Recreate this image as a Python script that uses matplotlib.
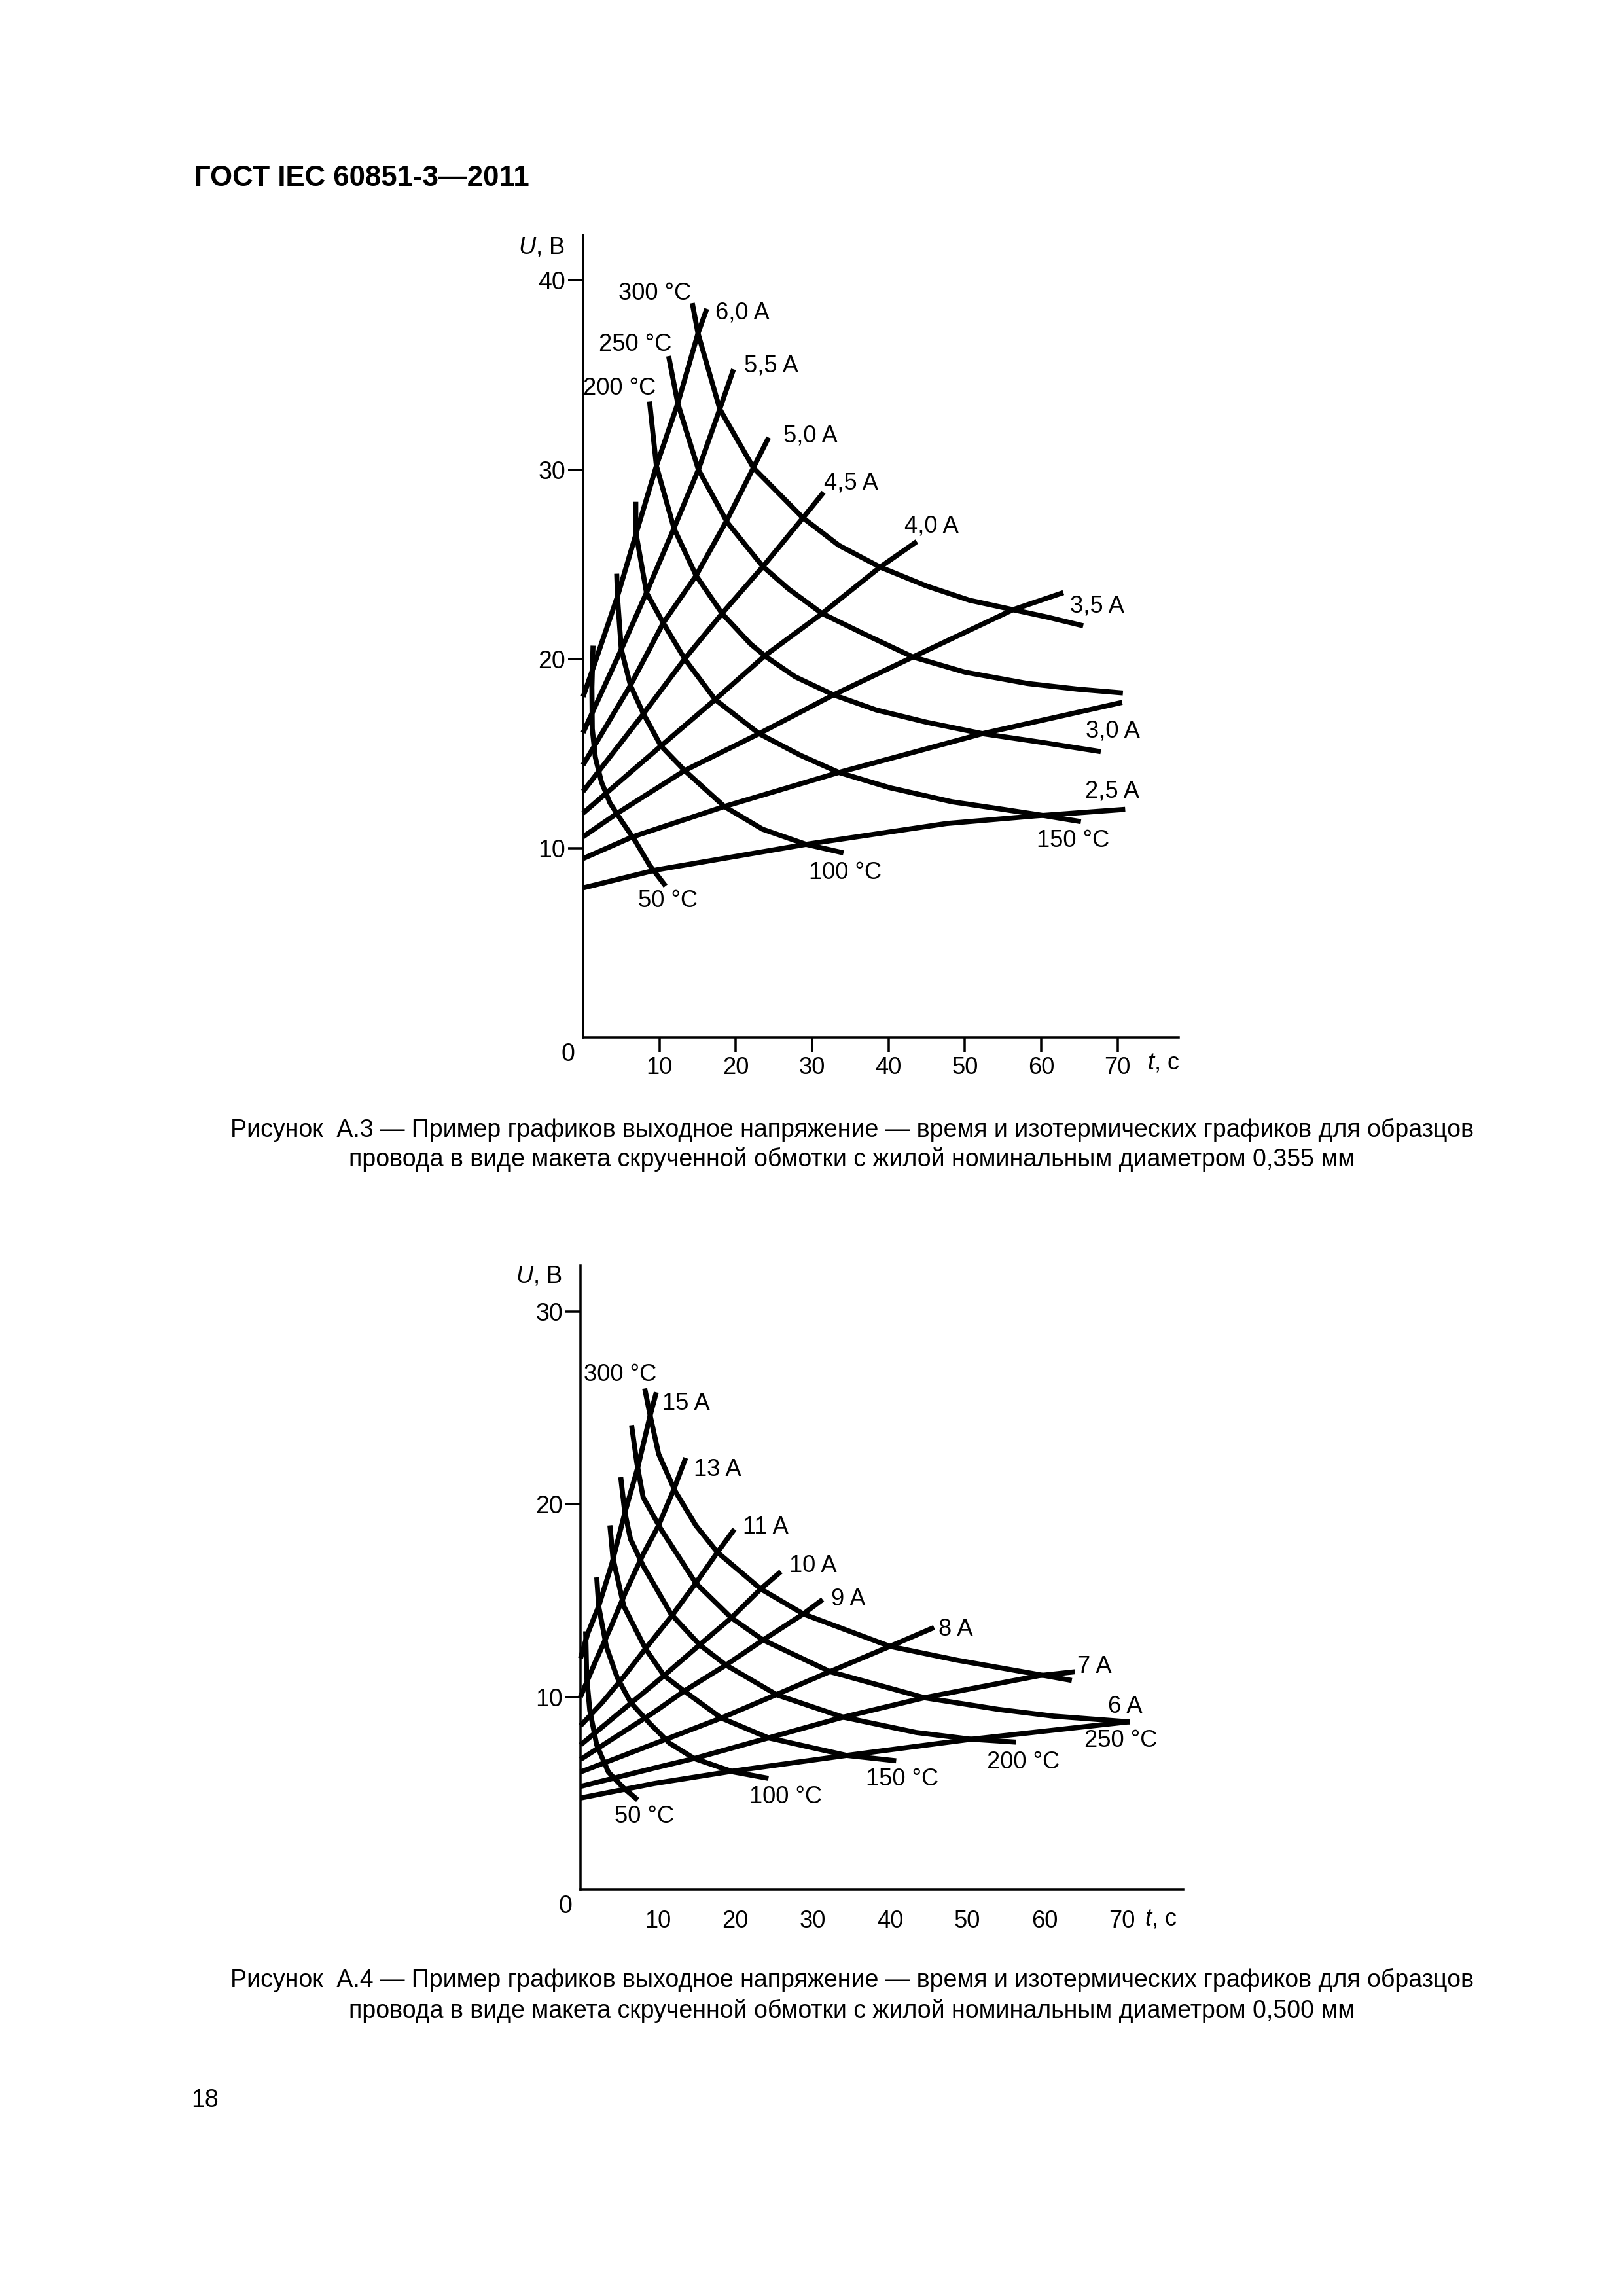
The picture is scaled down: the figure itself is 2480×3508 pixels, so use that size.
import matplotlib.pyplot as plt

plt.rcParams['font.family'] = ['Liberation Sans', 'DejaVu Sans']
plt.rcParams['mathtext.fontset'] = 'custom'
plt.rcParams['mathtext.it'] = 'Liberation Sans:italic'
plt.rcParams['mathtext.rm'] = 'Liberation Sans'

W, H = 2480, 3508

# ---------------- Figure A.3 (0,355 mm): t, s  /  U, V ----------------
# constant current lines
a3_i25_t = [0, 9.6, 29.2, 47.6, 59.2, 71.0]
a3_i25_u = [7.9, 8.85, 10.2, 11.3, 11.7, 12.05]
a3_i30_t = [0, 6.5, 18.5, 33.5, 52.3, 70.6]
a3_i30_u = [9.45, 10.6, 12.2, 14.0, 16.05, 17.7]
a3_i35_t = [0, 4.5, 13.3, 23.05, 32.8, 43.2, 56.3, 62.9]
a3_i35_u = [10.6, 11.85, 14.1, 16.05, 18.1, 20.1, 22.6, 23.5]
a3_i40_t = [0, 10.2, 17.3, 23.9, 31.3, 38.9, 43.7]
a3_i40_u = [11.85, 15.4, 17.85, 20.2, 22.4, 24.85, 26.2]
a3_i45_t = [0, 7.9, 13.3, 18.2, 23.6, 28.8, 31.5]
a3_i45_u = [13.0, 17.1, 20.0, 22.4, 24.9, 27.45, 28.8]
a3_i50_t = [0, 6.2, 10.5, 14.8, 18.8, 22.3, 24.3]
a3_i50_u = [14.4, 18.6, 21.9, 24.4, 27.3, 30.1, 31.7]
a3_i55_t = [0, 5.0, 8.3, 11.9, 15.1, 17.9, 19.7]
a3_i55_u = [16.1, 20.5, 23.5, 26.9, 30.0, 33.2, 35.3]
a3_i60_t = [0, 1.3, 4.5, 7.0, 9.6, 12.4, 15.05, 16.2]
a3_i60_u = [18.0, 19.5, 23.3, 26.7, 30.2, 33.5, 37.2, 38.5]

# isotherms
a3_c300_t = [14.3, 15.05, 17.9, 22.3, 28.8, 33.5, 38.9, 45.0, 50.6, 56.3, 60.9, 65.5]
a3_c300_u = [38.8, 37.2, 33.2, 30.1, 27.45, 26.0, 24.85, 23.85, 23.1, 22.6, 22.2, 21.75]
a3_c250_t = [11.2, 12.4, 15.1, 18.9, 23.5, 26.9, 31.3, 36.9, 43.2, 50.0, 58.2, 64.8, 70.7]
a3_c250_u = [36.0, 33.5, 30.0, 27.2, 24.9, 23.7, 22.4, 21.3, 20.1, 19.3, 18.7, 18.4, 18.2]
a3_c200_t = [8.7, 9.6, 11.9, 14.8, 18.2, 21.9, 24.0, 27.8, 32.8, 38.4, 45.0, 52.3, 59.9, 67.8]
a3_c200_u = [33.6, 30.2, 26.9, 24.4, 22.4, 20.8, 20.1, 19.05, 18.1, 17.3, 16.65, 16.05, 15.6, 15.1]
a3_c150_t = [6.9, 6.9, 8.3, 10.5, 13.3, 17.3, 23.05, 28.5, 33.5, 40.1, 48.3, 55.0, 59.9, 65.2]
a3_c150_u = [28.3, 26.7, 23.5, 21.9, 20.0, 17.85, 16.05, 14.9, 14.0, 13.2, 12.45, 12.05, 11.75, 11.4]
a3_c100_t = [4.4, 4.5, 5.0, 6.2, 7.9, 10.2, 13.3, 18.5, 23.5, 29.2, 34.1]
a3_c100_u = [24.5, 23.3, 20.5, 18.6, 17.1, 15.4, 14.1, 12.2, 11.0, 10.2, 9.75]
a3_c50_t = [1.3, 1.15, 1.2, 1.6, 2.4, 3.5, 5.1, 6.8, 8.7, 10.8]
a3_c50_u = [20.7, 18.5, 16.3, 14.8, 13.5, 12.4, 11.4, 10.4, 9.1, 8.0]

a3_labels = ['300 °C', '6,0 A', '250 °C', '5,5 A', '200 °C', '5,0 A', '4,5 A',
             '4,0 A', '3,5 A', '3,0 A', '2,5 A', '150 °C', '100 °C', '50 °C']

# ---------------- Figure A.4 (0,500 mm) ----------------
a4_i6_t = [0, 9.5, 19.9, 34.4, 50.5, 71.0]
a4_i6_u = [4.75, 5.5, 6.16, 6.96, 7.8, 8.71]
a4_i7_t = [0, 9.5, 14.7, 24.3, 33.9, 44.5, 59.3, 63.9]
a4_i7_u = [5.35, 6.3, 6.8, 7.87, 8.94, 9.96, 11.1, 11.3]
a4_i8_t = [0, 10.4, 18.2, 25.4, 32.3, 40.0, 45.7]
a4_i8_u = [6.1, 7.7, 8.9, 10.13, 11.32, 12.62, 13.6]
a4_i9_t = [0, 9.5, 13.4, 18.8, 23.6, 28.8, 31.3]
a4_i9_u = [6.75, 9.2, 10.3, 11.65, 12.95, 14.3, 15.05]
a4_i10_t = [0, 10.8, 15.4, 19.5, 23.3, 25.9]
a4_i10_u = [7.5, 11.1, 12.7, 14.1, 15.6, 16.5]
a4_i11_t = [0, 2.8, 5.6, 8.4, 11.8, 14.9, 17.7, 19.9]
a4_i11_u = [8.5, 9.7, 11.05, 12.5, 14.2, 15.9, 17.5, 18.7]
a4_i13_t = [0, 1.9, 3.9, 5.9, 8.1, 10.1, 12.1, 13.6]
a4_i13_u = [10.0, 11.8, 13.6, 15.5, 17.4, 18.9, 20.8, 22.4]
a4_i15_t = [0, 0.95, 2.35, 4.05, 5.7, 7.4, 9.0, 9.8]
a4_i15_u = [12.0, 13.3, 14.7, 16.9, 19.5, 21.9, 24.6, 25.8]

a4_c300_t = [8.3, 9.0, 10.1, 12.2, 14.9, 17.7, 23.3, 28.8, 40.0, 48.7, 59.3, 63.5]
a4_c300_u = [26.0, 24.6, 22.6, 20.7, 18.9, 17.5, 15.6, 14.3, 12.62, 11.9, 11.15, 10.85]
a4_c250_t = [6.6, 7.3, 8.1, 10.4, 14.9, 19.5, 23.6, 32.3, 44.5, 54.0, 61.1, 71.0]
a4_c250_u = [24.1, 22.1, 20.35, 18.7, 15.9, 14.1, 12.95, 11.3, 9.95, 9.35, 9.0, 8.7]
a4_c200_t = [5.2, 5.7, 6.45, 8.1, 11.7, 15.4, 18.8, 25.4, 33.9, 43.4, 50.5, 56.3]
a4_c200_u = [21.4, 19.65, 18.2, 16.8, 14.3, 12.7, 11.65, 10.1, 8.95, 8.15, 7.8, 7.65]
a4_c150_t = [3.8, 4.2, 5.6, 8.4, 10.8, 13.4, 18.2, 24.3, 34.4, 40.8]
a4_c150_u = [18.9, 17.2, 14.7, 12.5, 11.1, 10.3, 8.9, 7.87, 6.96, 6.68]
a4_c100_t = [2.1, 2.35, 3.35, 4.75, 6.5, 9.0, 11.5, 14.7, 19.8, 24.3]
a4_c100_u = [16.2, 14.7, 12.6, 11.0, 9.7, 8.6, 7.6, 6.8, 6.1, 5.77]
a4_c50_t = [0.67, 0.8, 1.2, 2.1, 3.6, 5.6, 7.4]
a4_c50_u = [13.4, 11.05, 9.3, 7.5, 6.1, 5.26, 4.65]

a4_labels = ['300 °C', '15 A', '13 A', '11 A', '10 A', '9 A', '8 A',
             '7 A', '6 A', '250 °C', '200 °C', '150 °C', '100 °C', '50 °C']

# where the curve labels sit (t, U, alignment)
a3_label_pos = [(9.4, 39.3, 'center'), (17.3, 38.3, 'left'), (6.8, 36.6, 'center'),
                (21.1, 35.5, 'left'), (4.8, 34.3, 'center'), (26.2, 31.8, 'left'),
                (31.5, 29.3, 'left'), (42.1, 27.0, 'left'), (63.8, 22.8, 'left'),
                (65.8, 16.2, 'left'), (65.7, 13.0, 'left'), (64.2, 10.4, 'center'),
                (34.3, 8.7, 'center'), (11.1, 7.2, 'center')]
a4_label_pos = [(5.1, 26.7, 'center'), (10.6, 25.2, 'left'), (14.6, 21.8, 'left'),
                (21.0, 18.8, 'left'), (27.0, 16.8, 'left'), (32.4, 15.05, 'left'),
                (46.3, 13.5, 'left'), (64.2, 11.55, 'left'), (68.2, 9.48, 'left'),
                (65.1, 7.74, 'left'), (52.5, 6.6, 'left'), (36.9, 5.71, 'left'),
                (21.8, 4.81, 'left'), (4.4, 3.8, 'left')]

a3_curves = [(a3_i25_t, a3_i25_u), (a3_i30_t, a3_i30_u), (a3_i35_t, a3_i35_u),
             (a3_i40_t, a3_i40_u), (a3_i45_t, a3_i45_u), (a3_i50_t, a3_i50_u),
             (a3_i55_t, a3_i55_u), (a3_i60_t, a3_i60_u),
             (a3_c300_t, a3_c300_u), (a3_c250_t, a3_c250_u), (a3_c200_t, a3_c200_u),
             (a3_c150_t, a3_c150_u), (a3_c100_t, a3_c100_u), (a3_c50_t, a3_c50_u)]
a4_curves = [(a4_i6_t, a4_i6_u), (a4_i7_t, a4_i7_u), (a4_i8_t, a4_i8_u),
             (a4_i9_t, a4_i9_u), (a4_i10_t, a4_i10_u), (a4_i11_t, a4_i11_u),
             (a4_i13_t, a4_i13_u), (a4_i15_t, a4_i15_u),
             (a4_c300_t, a4_c300_u), (a4_c250_t, a4_c250_u), (a4_c200_t, a4_c200_u),
             (a4_c150_t, a4_c150_u), (a4_c100_t, a4_c100_u), (a4_c50_t, a4_c50_u)]

FS = 8.7

fig = plt.figure(figsize=(W / 300, H / 300), dpi=300)


def setup(ax, xmax, ymax, yticks, xtick_len, xpad):
    ax.set_xlim(0, xmax)
    ax.set_ylim(0, ymax)
    for s in ['top', 'right']:
        ax.spines[s].set_visible(False)
    for s in ['left', 'bottom']:
        ax.spines[s].set_linewidth(0.85)
    ax.set_xticks([10, 20, 30, 40, 50, 60, 70])
    ax.set_yticks(yticks)
    ax.tick_params(axis='y', direction='out', length=5.5, width=0.85, pad=1, labelsize=9)
    ax.tick_params(axis='x', direction='out', length=xtick_len, width=0.85, pad=xpad, labelsize=FS)
    ax.patch.set_alpha(0)
    # zero at the corner
    ax.annotate('0', xy=(0, 0), xycoords='axes fraction', xytext=(-3, -2),
                textcoords='offset points', ha='right', va='top', fontsize=9)


def draw(ax, curves, labels, label_pos):
    for t, u in curves:
        ax.plot(t, u, color='black', lw=1.85, solid_capstyle='butt',
                solid_joinstyle='round', clip_on=False)
    for txt, (x, y, ha) in zip(labels, label_pos):
        ax.text(x, y, txt, ha=ha, va='center', fontsize=FS)


# ---- top chart ----
ax1 = fig.add_axes([891 / W, 1 - 1585 / H, (1801 - 891) / W, (1585 - 359) / H])
setup(ax1, 78.0, 42.4, [10, 20, 30, 40], 5.5, 1.5)
draw(ax1, a3_curves, a3_labels, a3_label_pos)
fig.text(827 / W, 1 - 378 / H, r'$U$, В', ha='center', va='center', fontsize=FS)
fig.text(1778 / W, 1 - 1624 / H, r'$t$, с', ha='center', va='center', fontsize=FS)

# ---- bottom chart ----
ax2 = fig.add_axes([887 / W, 1 - 2887 / H, (1808 - 887) / W, (2887 - 1933) / H])
setup(ax2, 77.9, 32.4, [10, 20, 30], 0, 7.5)
draw(ax2, a4_curves, a4_labels, a4_label_pos)
fig.text(823 / W, 1 - 1950 / H, r'$U$, В', ha='center', va='center', fontsize=FS)
fig.text(1774 / W, 1 - 2932 / H, r'$t$, с', ha='center', va='center', fontsize=FS)

# ---- page text ----
fig.text(297 / W, 1 - 273 / H, 'ГОСТ IEC 60851-3—2011', ha='left', va='center',
         fontsize=10.5, fontweight='bold')

cap1 = ['Рисунок  А.3 — Пример графиков выходное напряжение — время и изотермических графиков для образцов',
        'провода в виде макета скрученной обмотки с жилой номинальным диаметром 0,355 мм']
cap2 = ['Рисунок  А.4 — Пример графиков выходное напряжение — время и изотермических графиков для образцов',
        'провода в виде макета скрученной обмотки с жилой номинальным диаметром 0,500 мм']
for line, y in zip(cap1, [1726, 1771]):
    fig.text(1302 / W, 1 - y / H, line, ha='center', va='center', fontsize=9)
for line, y in zip(cap2, [3025, 3072]):
    fig.text(1302 / W, 1 - y / H, line, ha='center', va='center', fontsize=9)

fig.text(313 / W, 1 - 3209 / H, '18', ha='center', va='center', fontsize=9)

fig.savefig('out.png', dpi=300, facecolor='white')
